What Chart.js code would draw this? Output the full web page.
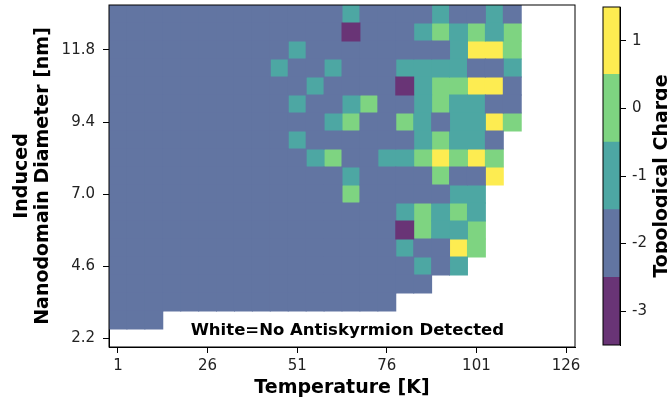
<!DOCTYPE html>
<html>
<head>
<meta charset="utf-8">
<script src="https://cdn.jsdelivr.net/npm/chart.js@4.4.0/dist/chart.umd.min.js"></script>
<style>
html, body { margin: 0; padding: 0; background: #fff; overflow: hidden; }
#wrap { position: relative; width: 667px; height: 405px; }
#heat { position: absolute; left: 0; top: 0; }
#cbar { position: absolute; left: 560px; top: 0; }
</style>
</head>
<body>
<div id="wrap">
<canvas id="heat" width="667" height="405"></canvas>
<canvas id="cbar" width="107" height="405"></canvas>
</div>
<script>
var N = null;

// temperature columns [K]
var temperatures = [1, 6, 11, 16, 21, 26, 31, 36, 41, 46, 51, 56, 61, 66, 71, 76, 81, 86, 91, 96, 101, 106, 111, 116, 121, 126];
// nanodomain diameter rows [nm], top row first
var diameters = [13.0, 12.4, 11.8, 11.2, 10.6, 10.0, 9.4, 8.8, 8.2, 7.6, 7.0, 6.4, 5.8, 5.2, 4.6, 4.0, 3.4, 2.8, 2.2];

// topological charge, one row per diameter (null = no antiskyrmion)
var charge = [
    [-2,-2,-2,-2,-2,-2,-2,-2,-2,-2,-2,-2,-2,-1,-2,-2,-2,-2,-1,-2,-2,-1,-2, N, N, N],
    [-2,-2,-2,-2,-2,-2,-2,-2,-2,-2,-2,-2,-2,-3,-2,-2,-2,-1, 0,-1, 0,-1, 0, N, N, N],
    [-2,-2,-2,-2,-2,-2,-2,-2,-2,-2,-1,-2,-2,-2,-2,-2,-2,-2,-2,-1, 1, 1, 0, N, N, N],
    [-2,-2,-2,-2,-2,-2,-2,-2,-2,-1,-2,-2,-1,-2,-2,-2,-1,-1,-1,-1,-2,-2,-1, N, N, N],
    [-2,-2,-2,-2,-2,-2,-2,-2,-2,-2,-2,-1,-2,-2,-2,-2,-3,-1, 0, 0, 1, 1,-2, N, N, N],
    [-2,-2,-2,-2,-2,-2,-2,-2,-2,-2,-1,-2,-2,-1, 0,-2,-2,-1, 0,-1,-1,-2,-2, N, N, N],
    [-2,-2,-2,-2,-2,-2,-2,-2,-2,-2,-2,-2,-1, 0,-2,-2, 0,-1,-2,-1,-1, 1, 0, N, N, N],
    [-2,-2,-2,-2,-2,-2,-2,-2,-2,-2,-1,-2,-2,-2,-2,-2,-2,-1, 0,-1,-1,-2, N, N, N, N],
    [-2,-2,-2,-2,-2,-2,-2,-2,-2,-2,-2,-1, 0,-2,-2,-1,-1, 0, 1, 0, 1, 0, N, N, N, N],
    [-2,-2,-2,-2,-2,-2,-2,-2,-2,-2,-2,-2,-2,-1,-2,-2,-2,-2, 0,-2,-2, 1, N, N, N, N],
    [-2,-2,-2,-2,-2,-2,-2,-2,-2,-2,-2,-2,-2, 0,-2,-2,-2,-2,-2,-1,-1, N, N, N, N, N],
    [-2,-2,-2,-2,-2,-2,-2,-2,-2,-2,-2,-2,-2,-2,-2,-2,-1, 0,-1, 0,-1, N, N, N, N, N],
    [-2,-2,-2,-2,-2,-2,-2,-2,-2,-2,-2,-2,-2,-2,-2,-2,-3, 0,-1,-1, 0, N, N, N, N, N],
    [-2,-2,-2,-2,-2,-2,-2,-2,-2,-2,-2,-2,-2,-2,-2,-2,-1,-2,-2, 1, 0, N, N, N, N, N],
    [-2,-2,-2,-2,-2,-2,-2,-2,-2,-2,-2,-2,-2,-2,-2,-2,-2,-1,-2,-1, N, N, N, N, N, N],
    [-2,-2,-2,-2,-2,-2,-2,-2,-2,-2,-2,-2,-2,-2,-2,-2,-2,-2, N, N, N, N, N, N, N, N],
    [-2,-2,-2,-2,-2,-2,-2,-2,-2,-2,-2,-2,-2,-2,-2,-2, N, N, N, N, N, N, N, N, N, N],
    [-2,-2,-2, N, N, N, N, N, N, N, N, N, N, N, N, N, N, N, N, N, N, N, N, N, N, N],
    [ N, N, N, N, N, N, N, N, N, N, N, N, N, N, N, N, N, N, N, N, N, N, N, N, N, N]
];

var chargeLevels = [-3, -2, -1, 0, 1];
// viridis, 5 steps, alpha 0.8 over white
var levelColors = ['#693476', '#6275a2', '#4da7a3', '#7ed481', '#fdec51'];

var xTicks = [1, 26, 51, 76, 101, 126];
var yTicks = [2.2, 4.6, 7.0, 9.4, 11.8];

var noteText = 'White=No Antiskyrmion Detected';

var dT = temperatures[1] - temperatures[0];
var dD = diameters[0] - diameters[1];
var FONT = 'DejaVu Sans';

// one dataset per charge level, each cell a floating bar
var heatSets = chargeLevels.map(function (lvl, k) {
    var cells = [];
    charge.forEach(function (row, r) {
        row.forEach(function (v, c) {
            if (v === lvl) {
                cells.push({x: temperatures[c], y: [diameters[r] - dD / 2, diameters[r] + dD / 2]});
            }
        });
    });
    return {
        label: String(lvl),
        data: cells,
        backgroundColor: levelColors[k],
        borderWidth: 0,
        grouped: false,
        barPercentage: 1,
        categoryPercentage: 1,
        inflateAmount: 0.5
    };
});

// no extra room for half tick labels at the axis ends
var noEndPadding = function (s) {
    s.paddingTop = 0;
    s.paddingBottom = 0;
    s.paddingLeft = 0;
    s.paddingRight = 0;
};

var framePlugin = {
    id: 'frame',
    afterDraw: function (chart) {
        var a = chart.chartArea, ctx = chart.ctx;
        ctx.save();
        ctx.strokeStyle = '#000';
        ctx.lineWidth = 1;
        ctx.strokeRect(a.left, a.top, a.right - a.left, a.bottom - a.top);
        ctx.restore();
    }
};

var notePlugin = {
    id: 'note',
    afterDatasetsDraw: function (chart) {
        var ctx = chart.ctx, xs = chart.scales.x, ys = chart.scales.y;
        ctx.save();
        ctx.font = 'bold 16.5px "' + FONT + '"';
        ctx.fillStyle = '#000';
        ctx.textAlign = 'center';
        ctx.textBaseline = 'middle';
        ctx.fillText(noteText, xs.getPixelForValue(65), ys.getPixelForValue(2.43));
        ctx.restore();
    }
};

var tickFont = {family: FONT, size: 15};
var titleFont = {family: FONT, size: 19, weight: 'bold', lineHeight: 1.14};

new Chart(document.getElementById('heat'), {
    type: 'bar',
    data: {datasets: heatSets},
    options: {
        responsive: false,
        animation: false,
        layout: {padding: {top: 5, right: 92, left: 0, bottom: 0}},
        plugins: {legend: {display: false}, tooltip: {enabled: false}},
        scales: {
            x: {
                type: 'linear',
                min: temperatures[0] - dT / 2,
                max: temperatures[temperatures.length - 1] + dT / 2,
                offset: false,
                afterBuildTicks: function (s) { s.ticks = xTicks.map(function (v) { return {value: v}; }); },
                afterFit: function (s) { s.height = 58; noEndPadding(s); },
                grid: {display: true, drawOnChartArea: false, drawTicks: true, tickLength: 6, color: '#000', offset: false},
                border: {display: true, color: '#000'},
                ticks: {color: '#222', font: tickFont, padding: 4, maxRotation: 0, autoSkip: false},
                title: {display: true, text: 'Temperature [K]', color: '#000', font: titleFont, padding: {top: 0, bottom: 6}}
            },
            y: {
                type: 'linear',
                min: diameters[diameters.length - 1] - dD / 2,
                max: diameters[0] + dD / 2,
                afterBuildTicks: function (s) { s.ticks = yTicks.map(function (v) { return {value: v}; }); },
                afterFit: function (s) { s.width = 109; noEndPadding(s); },
                grid: {display: true, drawOnChartArea: false, drawTicks: true, tickLength: 6, color: '#000'},
                border: {display: true, color: '#000'},
                ticks: {color: '#222', font: tickFont, padding: 8, autoSkip: false, callback: function (v) { return v.toFixed(1); }},
                title: {display: true, text: ['Induced', 'Nanodomain Diameter [nm]'], color: '#000', font: titleFont, padding: {top: 11, bottom: 0}}
            }
        }
    },
    plugins: [framePlugin, notePlugin]
});

var cbarTitlePlugin = {
    id: 'cbarTitle',
    afterDraw: function (chart) {
        var a = chart.chartArea, ctx = chart.ctx;
        ctx.save();
        ctx.translate(chart.width, (a.top + a.bottom) / 2);
        ctx.rotate(-Math.PI / 2);
        ctx.font = 'bold 19px "' + FONT + '"';
        ctx.fillStyle = '#000';
        ctx.textAlign = 'center';
        ctx.textBaseline = 'alphabetic';
        ctx.fillText('Topological Charge', 0, 0);
        ctx.restore();
    }
};

new Chart(document.getElementById('cbar'), {
    type: 'bar',
    data: {
        labels: [''],
        datasets: chargeLevels.map(function (lvl, k) {
            return {
                data: [[lvl - 0.5, lvl + 0.5]],
                backgroundColor: levelColors[k],
                borderWidth: 0,
                grouped: false,
                barPercentage: 1,
                categoryPercentage: 1,
                inflateAmount: 0.5
            };
        })
    },
    options: {
        responsive: false,
        animation: false,
        layout: {padding: {top: 7, bottom: 60, left: 43, right: 0}},
        plugins: {legend: {display: false}, tooltip: {enabled: false}},
        scales: {
            x: {display: false},
            y: {
                position: 'right',
                min: chargeLevels[0] - 0.5,
                max: chargeLevels[chargeLevels.length - 1] + 0.5,
                afterBuildTicks: function (s) { s.ticks = chargeLevels.map(function (v) { return {value: v}; }); },
                afterFit: function (s) { s.width = 47; noEndPadding(s); },
                grid: {display: true, drawOnChartArea: false, drawTicks: true, tickLength: 6, color: '#000'},
                border: {display: true, color: '#000'},
                ticks: {color: '#222', font: tickFont, padding: 6}
            }
        }
    },
    plugins: [framePlugin, cbarTitlePlugin]
});
</script>
</body>
</html>
